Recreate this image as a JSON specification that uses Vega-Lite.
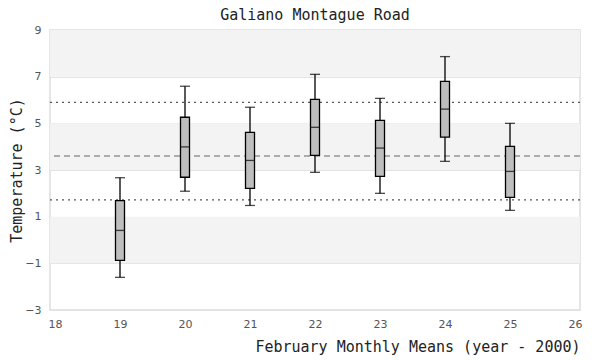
{
  "$schema": "https://vega.github.io/schema/vega-lite/v6.json",
  "autosize": {"type": "none"},
  "width": 530,
  "height": 280,
  "padding": {"left": 50, "top": 30, "right": 20, "bottom": 50},
  "background": "white",
  "title": {
    "text": "Galiano Montague Road",
    "font": "DejaVu Sans Mono",
    "fontSize": 15,
    "fontWeight": "normal",
    "color": "#222",
    "anchor": "middle",
    "offset": 1
  },
  "config": {
    "view": {"stroke": "#dddddd", "strokeWidth": 1.5},
    "axis": {
      "domain": false,
      "ticks": false,
      "labelFont": "DejaVu Sans",
      "labelFontSize": 11,
      "labelColor": "#555",
      "titleFont": "DejaVu Sans Mono",
      "titleFontSize": 15,
      "titleFontWeight": "normal",
      "titleColor": "#222"
    }
  },
  "datasets": {
    "boxes": [
      {"year": 19, "lo": -1.6, "q1": -0.87, "med": 0.41, "q3": 1.69, "hi": 2.67},
      {"year": 20, "lo": 2.09, "q1": 2.69, "med": 3.99, "q3": 5.26, "hi": 6.59},
      {"year": 21, "lo": 1.48, "q1": 2.21, "med": 3.41, "q3": 4.61, "hi": 5.69},
      {"year": 22, "lo": 2.9, "q1": 3.63, "med": 4.83, "q3": 6.03, "hi": 7.1},
      {"year": 23, "lo": 2.0, "q1": 2.73, "med": 3.94, "q3": 5.13, "hi": 6.07},
      {"year": 24, "lo": 3.37, "q1": 4.41, "med": 5.61, "q3": 6.8, "hi": 7.86},
      {"year": 25, "lo": 1.27, "q1": 1.83, "med": 2.94, "q3": 4.01, "hi": 5.0}
    ],
    "bands": [
      {"lo": 7, "hi": 9},
      {"lo": 3, "hi": 5},
      {"lo": -1, "hi": 1}
    ],
    "refs": [
      {"value": 5.9, "kind": "dotted"},
      {"value": 1.72, "kind": "dotted"},
      {"value": 3.6, "kind": "dashed"}
    ]
  },
  "layer": [
    {
      "data": {"name": "bands"},
      "mark": {"type": "rect", "color": "#f3f3f3"},
      "encoding": {
        "y": {
          "field": "lo", "type": "quantitative",
          "scale": {"domain": [-3, 9], "nice": false, "zero": false},
          "axis": {
            "values": [-3, -1, 1, 3, 5, 7, 9],
            "format": "d",
            "grid": true, "gridColor": "#e2e2e2", "gridWidth": 1.2,
            "labelPadding": 9,
            "title": "Temperature (°C)",
            "titlePadding": 0
          }
        },
        "y2": {"field": "hi"}
      }
    },
    {
      "data": {"name": "refs"},
      "transform": [{"filter": "datum.kind === 'dotted'"}],
      "mark": {"type": "rule", "color": "#555", "strokeDash": [2, 4], "strokeWidth": 1.2},
      "encoding": {"y": {"field": "value", "type": "quantitative"}}
    },
    {
      "data": {"name": "refs"},
      "transform": [{"filter": "datum.kind === 'dashed'"}],
      "mark": {"type": "rule", "color": "#666", "strokeDash": [6, 4], "strokeWidth": 1.2},
      "encoding": {"y": {"field": "value", "type": "quantitative"}}
    },
    {
      "data": {"name": "boxes"},
      "mark": {"type": "rule", "color": "black", "strokeWidth": 1.3},
      "encoding": {
        "x": {
          "field": "year", "type": "quantitative",
          "scale": {"domain": [18, 26], "nice": false, "zero": false},
          "axis": {
            "values": [18, 19, 20, 21, 22, 23, 24, 25, 26],
            "format": "d",
            "grid": false,
            "labelPadding": 8,
            "title": "February Monthly Means (year - 2000)",
            "titleAnchor": "end",
            "titlePadding": 10
          }
        },
        "y": {"field": "lo", "type": "quantitative"},
        "y2": {"field": "hi"}
      }
    },
    {
      "data": {"name": "boxes"},
      "mark": {"type": "tick", "orient": "horizontal", "color": "black", "size": 10, "thickness": 1.3},
      "encoding": {
        "x": {"field": "year", "type": "quantitative"},
        "y": {"field": "lo", "type": "quantitative"}
      }
    },
    {
      "data": {"name": "boxes"},
      "mark": {"type": "tick", "orient": "horizontal", "color": "black", "size": 10, "thickness": 1.3},
      "encoding": {
        "x": {"field": "year", "type": "quantitative"},
        "y": {"field": "hi", "type": "quantitative"}
      }
    },
    {
      "data": {"name": "boxes"},
      "mark": {"type": "bar", "fill": "#bebebe", "stroke": "black", "strokeWidth": 1.3, "size": 9},
      "encoding": {
        "x": {"field": "year", "type": "quantitative"},
        "y": {"field": "q1", "type": "quantitative"},
        "y2": {"field": "q3"}
      }
    },
    {
      "data": {"name": "boxes"},
      "mark": {"type": "tick", "orient": "horizontal", "color": "black", "size": 9, "thickness": 1.3},
      "encoding": {
        "x": {"field": "year", "type": "quantitative"},
        "y": {"field": "med", "type": "quantitative"}
      }
    }
  ]
}
